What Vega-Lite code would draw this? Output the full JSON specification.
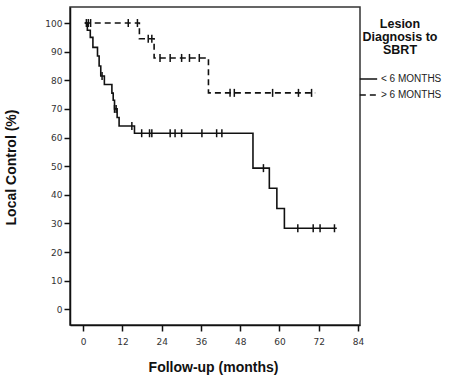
{
  "$schema": "https://vega.github.io/schema/vega-lite/v6.json",
  "width": 290,
  "height": 318,
  "autosize": "none",
  "padding": {"left": 70, "top": 7, "right": 99, "bottom": 57},
  "background": "white",
  "config": {
    "view": {"stroke": "#333", "strokeWidth": 1.5},
    "font": "Liberation Sans",
    "axis": {
      "grid": false,
      "domainColor": "#111",
      "domainWidth": 1.5,
      "tickColor": "#111",
      "tickWidth": 1.5,
      "tickSize": 6,
      "labelFont": "DejaVu Sans",
      "labelFontSize": 9,
      "labelColor": "#333",
      "labelOverlap": false,
      "titleFont": "Liberation Sans",
      "titleFontSize": 14,
      "titleFontWeight": "bold",
      "titleColor": "#111"
    }
  },
  "encoding": {
    "x": {
      "field": "t", "type": "quantitative",
      "scale": {"domain": [-4, 84.6], "nice": false, "zero": false},
      "axis": {"values": [0, 12, 24, 36, 48, 60, 72, 84], "title": "Follow-up (months)", "titleX": 143, "titleY": 35, "labelPadding": 6}
    },
    "y": {
      "field": "s", "type": "quantitative",
      "scale": {"domain": [-5.5, 105.6], "nice": false, "zero": false},
      "axis": {"values": [0, 10, 20, 30, 40, 50, 60, 70, 80, 90, 100], "title": "Local Control (%)", "titleX": -52, "titleY": 160, "labelPadding": 2}
    }
  },
  "layer": [
    {
      "data": {
        "values": [
          {"t": 0.5, "s": 100, "group": "< 6 MONTHS"},
          {"t": 1.3, "s": 97.5, "group": "< 6 MONTHS"},
          {"t": 2.2, "s": 95, "group": "< 6 MONTHS"},
          {"t": 3.0, "s": 91.5, "group": "< 6 MONTHS"},
          {"t": 4.4, "s": 88.5, "group": "< 6 MONTHS"},
          {"t": 4.9, "s": 85, "group": "< 6 MONTHS"},
          {"t": 5.4, "s": 81.5, "group": "< 6 MONTHS"},
          {"t": 6.5, "s": 78.5, "group": "< 6 MONTHS"},
          {"t": 8.8, "s": 75.5, "group": "< 6 MONTHS"},
          {"t": 9.2, "s": 73, "group": "< 6 MONTHS"},
          {"t": 9.6, "s": 70, "group": "< 6 MONTHS"},
          {"t": 10.4, "s": 67, "group": "< 6 MONTHS"},
          {"t": 11.0, "s": 64, "group": "< 6 MONTHS"},
          {"t": 15.7, "s": 61.5, "group": "< 6 MONTHS"},
          {"t": 51.9, "s": 49.3, "group": "< 6 MONTHS"},
          {"t": 56.9, "s": 42.3, "group": "< 6 MONTHS"},
          {"t": 59.2, "s": 35.2, "group": "< 6 MONTHS"},
          {"t": 61.5, "s": 28.3, "group": "< 6 MONTHS"},
          {"t": 77.5, "s": 28.3, "group": "< 6 MONTHS"},
          {"t": 0.5, "s": 100, "group": "> 6 MONTHS"},
          {"t": 17.2, "s": 94.5, "group": "> 6 MONTHS"},
          {"t": 21.7, "s": 87.8, "group": "> 6 MONTHS"},
          {"t": 38.3, "s": 75.6, "group": "> 6 MONTHS"},
          {"t": 70.9, "s": 75.6, "group": "> 6 MONTHS"}
        ]
      },
      "mark": {"type": "line", "interpolate": "step-after", "color": "#111", "strokeWidth": 1.6},
      "encoding": {
        "strokeDash": {
          "field": "group", "type": "nominal",
          "scale": {"domain": ["< 6 MONTHS", "> 6 MONTHS"], "range": [[1, 0], [6, 4]]},
          "legend": {
            "title": ["Lesion", "Diagnosis to", "SBRT"],
            "orient": "none",
            "legendX": 289,
            "legendY": 11,
            "titleFont": "Liberation Sans",
            "titleFontSize": 12.5,
            "titleFontWeight": "bold",
            "titleLineHeight": 13,
            "titleAnchor": "middle",
            "titleAlign": "center",
            "titleColor": "#111",
            "titlePadding": 13,
            "labelFont": "Liberation Sans",
            "labelFontSize": 10,
            "labelColor": "#222",
            "labelOffset": 3,
            "symbolType": "stroke",
            "symbolSize": 300,
            "symbolStrokeWidth": 1.5,
            "symbolStrokeColor": "#111",
            "rowPadding": 1
          }
        }
      }
    },
    {
      "data": {
        "values": [
          {"t": 5.8, "s": 81.5}, {"t": 9.6, "s": 70}, {"t": 10.1, "s": 70}, {"t": 14.9, "s": 64},
          {"t": 17.9, "s": 61.5}, {"t": 20.3, "s": 61.5}, {"t": 21.0, "s": 61.5}, {"t": 26.6, "s": 61.5},
          {"t": 28.1, "s": 61.5}, {"t": 30.1, "s": 61.5}, {"t": 36.3, "s": 61.5}, {"t": 40.8, "s": 61.5},
          {"t": 42.4, "s": 61.5}, {"t": 55.1, "s": 49.3}, {"t": 65.6, "s": 28.3}, {"t": 70.3, "s": 28.3},
          {"t": 72.4, "s": 28.3}, {"t": 76.8, "s": 28.3},
          {"t": 1.0, "s": 100}, {"t": 1.6, "s": 100}, {"t": 2.3, "s": 100}, {"t": 13.8, "s": 100},
          {"t": 16.6, "s": 100}, {"t": 19.9, "s": 94.5}, {"t": 21.0, "s": 94.5}, {"t": 23.5, "s": 87.8},
          {"t": 26.6, "s": 87.8}, {"t": 30.1, "s": 87.8}, {"t": 32.5, "s": 87.8}, {"t": 35.5, "s": 87.8},
          {"t": 44.9, "s": 75.6}, {"t": 46.2, "s": 75.6}, {"t": 57.9, "s": 75.6}, {"t": 65.8, "s": 75.6},
          {"t": 69.8, "s": 75.6}
        ]
      },
      "mark": {"type": "tick", "orient": "vertical", "size": 8, "thickness": 1.5, "color": "#111", "opacity": 1}
    }
  ]
}
